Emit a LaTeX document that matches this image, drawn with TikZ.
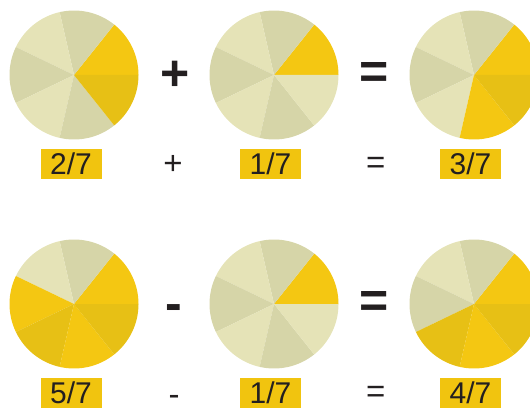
\documentclass[tikz,border=0pt]{standalone}
\usepackage{fontspec}
\setmainfont{Liberation Sans}
\definecolor{lightA}{HTML}{E5E3B7}
\definecolor{lightB}{HTML}{D6D5A8}
\definecolor{yelA}{HTML}{F4C712}
\definecolor{yelB}{HTML}{E7C015}
\definecolor{labfill}{HTML}{F1C40F}
\definecolor{ink}{HTML}{231F20}
\newcommand\drawpie[2]{%
  \foreach \col [count=\i from 0] in {#2} {%
    \fill[\col] (#1) -- ++({\i*360/7}:64.5) arc[start angle={\i*360/7}, end angle={(\i+1)*360/7}, radius=64.5] -- cycle;
  }%
}
\begin{document}
\begin{tikzpicture}[x=1pt,y=1pt,
  fraclabel/.style={fill=labfill, text=ink, minimum width=61pt, minimum height=30pt, inner sep=0pt, font=\fontsize{30}{30}\selectfont},
  bigop/.style={text=ink, inner sep=0pt, font=\fontsize{50}{50}\selectfont\bfseries},
  smallop/.style={text=ink, inner sep=0pt, font=\fontsize{33}{33}\selectfont}]
\useasboundingbox (0,0) rectangle (530,-409);
\clip (0,0) rectangle (530,-409);
% pie centres
\coordinate (p1) at (74,-75);
\coordinate (p2) at (274,-75);
\coordinate (p3) at (474,-75);
\coordinate (p4) at (74,-304);
\coordinate (p5) at (274,-304);
\coordinate (p6) at (474,-304);
\drawpie{p1}{yelA,lightB,lightA,lightB,lightA,lightB,yelB}
\drawpie{p2}{yelA,lightB,lightA,lightB,lightA,lightB,lightA}
\drawpie{p3}{yelA,lightB,lightA,lightB,lightA,yelA,yelB}
\drawpie{p4}{yelA,lightB,lightA,yelA,yelB,yelA,yelB}
\drawpie{p5}{yelA,lightB,lightA,lightB,lightA,lightB,lightA}
\drawpie{p6}{yelA,lightB,lightA,lightB,yelB,yelA,yelB}
% labels
\node[fraclabel] (l1) at (71,-164) {2/7};
\node[fraclabel] (l2) at (270.5,-164) {1/7};
\node[fraclabel] (l3) at (470.5,-164) {3/7};
\node[fraclabel] (l4) at (71,-393) {5/7};
\node[fraclabel] (l5) at (270.5,-393) {1/7};
\node[fraclabel] (l6) at (470.5,-393) {4/7};
% operators
\node[bigop] (o1) at (175,-75.5) {+};
\node[bigop] (o2) at (374,-75.6) {=};
\node[bigop,anchor=base] (o3) at (174,-320.5) {-};
\node[bigop] (o4) at (374,-304.3) {=};
\node[smallop] (s1) at (173,-164.7) {+};
\node[smallop] (s2) at (375.7,-165) {=};
\node[smallop,anchor=base] (s3) at (174,-405) {-};
\node[smallop] (s4) at (375.7,-394) {=};
\end{tikzpicture}
\end{document}
